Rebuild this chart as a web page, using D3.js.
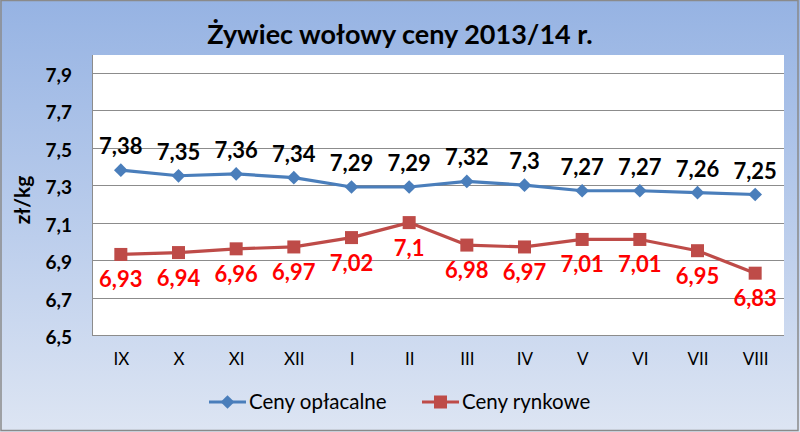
<!DOCTYPE html>
<html><head><meta charset="utf-8">
<script src="https://cdn.jsdelivr.net/npm/d3@7"></script>
<style>body{margin:0;background:#fff;} svg{display:block;}</style>
</head><body>
<svg id="c" width="800" height="432"></svg>
<script>
const categories = ["IX","X","XI","XII","I","II","III","IV","V","VI","VII","VIII"];
const cenyOplacalne = [7.38,7.35,7.36,7.34,7.29,7.29,7.32,7.3,7.27,7.27,7.26,7.25];
const cenyRynkowe = [6.93,6.94,6.96,6.97,7.02,7.1,6.98,6.97,7.01,7.01,6.95,6.83];
const yTicks = [6.5,6.7,6.9,7.1,7.3,7.5,7.7,7.9];
const seriesNames = ["Ceny opłacalne","Ceny rynkowe"];
const titleText = "Żywiec wołowy ceny 2013/14 r.";
const yTitleText = "zł/kg";

const FONT = "Lato, 'Open Sans', sans-serif";
const svg = d3.select("#c");
const W = 800, H = 432;
const plot = {left: 92, right: 784, top: 55, bottom: 335};

const defs = svg.append("defs");
const grad = defs.append("linearGradient").attr("id","bg").attr("x1",0).attr("y1",0).attr("x2",0).attr("y2",1);
grad.append("stop").attr("offset","0%").attr("stop-color","#96B3E3");
grad.append("stop").attr("offset","55%").attr("stop-color","#BCCEEC");
grad.append("stop").attr("offset","100%").attr("stop-color","#DDE5F3");

svg.append("rect").attr("x",0).attr("y",0).attr("width",W).attr("height",H).attr("fill","url(#bg)");
svg.append("rect").attr("x",1).attr("y",0.5).attr("width",797).attr("height",430)
  .attr("fill","none").attr("stroke","#8a8a8a").attr("stroke-width",1.5);

const x = d3.scalePoint().domain(categories).range([plot.left, plot.right]).padding(0.5);
const y = d3.scaleLinear().domain([6.5, 8.0]).range([plot.bottom, 54]);

svg.append("rect").attr("x",plot.left).attr("y",plot.top)
  .attr("width",plot.right-plot.left).attr("height",plot.bottom-plot.top).attr("fill","#fff");

const fmt = v => String(v).replace(".", ",");

// gridlines
svg.append("g").selectAll("line").data(yTicks).join("line")
  .attr("x1",plot.left).attr("x2",plot.right)
  .attr("y1",d=>Math.round(y(d))+0.5).attr("y2",d=>Math.round(y(d))+0.5)
  .attr("stroke","#8c8c8c").attr("stroke-width",1);
svg.append("line").attr("x1",plot.left+0.5).attr("x2",plot.left+0.5)
  .attr("y1",plot.top).attr("y2",plot.bottom).attr("stroke","#8c8c8c");

const yAxis = d3.axisLeft(y).tickValues(yTicks).tickFormat(fmt).tickSize(0).tickPadding(20);
const ga = svg.append("g").attr("transform",`translate(${plot.left},0)`).call(yAxis);
ga.select(".domain").remove();
ga.selectAll("text").attr("font-family",FONT).attr("font-size",19).attr("font-weight","bold")
  .attr("fill","#000").attr("dy","0.45em");

const xAxis = d3.axisBottom(x).tickSize(0).tickPadding(18);
const gx = svg.append("g").attr("transform",`translate(0,${plot.bottom})`).call(xAxis);
gx.select(".domain").remove();
gx.selectAll("text").attr("font-family",FONT).attr("font-size",17).attr("fill","#000");

svg.append("text").attr("x",400).attr("y",44).attr("text-anchor","middle")
  .attr("font-family",FONT).attr("font-weight","bold").attr("font-size",27).attr("fill","#000")
  .text(titleText);

svg.append("text").attr("transform",`translate(30,200) rotate(-90)`).attr("text-anchor","middle")
  .attr("font-family",FONT).attr("font-weight","bold").attr("font-size",21).attr("fill","#000")
  .text(yTitleText);

const blue = "#4A7EBB", red = "#BE4B48";
const line = d3.line().x((d,i)=>x(categories[i])).y(d=>y(d));

svg.append("path").datum(cenyOplacalne).attr("d",line).attr("fill","none")
  .attr("stroke",blue).attr("stroke-width",3.2).attr("stroke-linejoin","round");
svg.append("g").selectAll("path").data(cenyOplacalne).join("path")
  .attr("d",d3.symbol(d3.symbolDiamond2, 120)())
  .attr("transform",(d,i)=>`translate(${x(categories[i])},${y(d)})`)
  .attr("fill",blue);
svg.append("path").datum(cenyRynkowe).attr("d",line).attr("fill","none")
  .attr("stroke",red).attr("stroke-width",3.2).attr("stroke-linejoin","round");
svg.append("g").selectAll("rect").data(cenyRynkowe).join("rect")
  .attr("x",(d,i)=>x(categories[i])-6.5).attr("y",d=>y(d)-6.5)
  .attr("width",13).attr("height",13).attr("fill",red);

svg.append("g").selectAll("text").data(cenyOplacalne).join("text")
  .attr("x",(d,i)=>x(categories[i])).attr("y",d=>y(d)-16)
  .attr("text-anchor","middle").attr("font-family",FONT).attr("font-weight","bold")
  .attr("font-size",22).attr("fill","#000").text(fmt);
svg.append("g").selectAll("text").data(cenyRynkowe).join("text")
  .attr("x",(d,i)=>x(categories[i])).attr("y",d=>y(d)+33)
  .attr("text-anchor","middle").attr("font-family",FONT).attr("font-weight","bold")
  .attr("font-size",22).attr("fill","#FF0000").text(fmt);

const leg = svg.append("g");
const items = [
  {name: seriesNames[0], color: blue, shape: "diamond", x0: 209},
  {name: seriesNames[1], color: red, shape: "square", x0: 422}
];
const ly = 402;
items.forEach(it => {
  leg.append("line").attr("x1",it.x0).attr("x2",it.x0+37).attr("y1",ly).attr("y2",ly)
    .attr("stroke",it.color).attr("stroke-width",3.2);
  if (it.shape === "diamond") {
    leg.append("path").attr("d",d3.symbol(d3.symbolDiamond2,120)())
      .attr("transform",`translate(${it.x0+18.5},${ly})`).attr("fill",it.color);
  } else {
    leg.append("rect").attr("x",it.x0+18.5-6.5).attr("y",ly-6.5).attr("width",13).attr("height",13).attr("fill",it.color);
  }
  leg.append("text").attr("x",it.x0+40).attr("y",ly+7)
    .attr("font-family",FONT).attr("font-size",20.5).attr("fill","#000").text(it.name);
});
</script>
</body></html>
